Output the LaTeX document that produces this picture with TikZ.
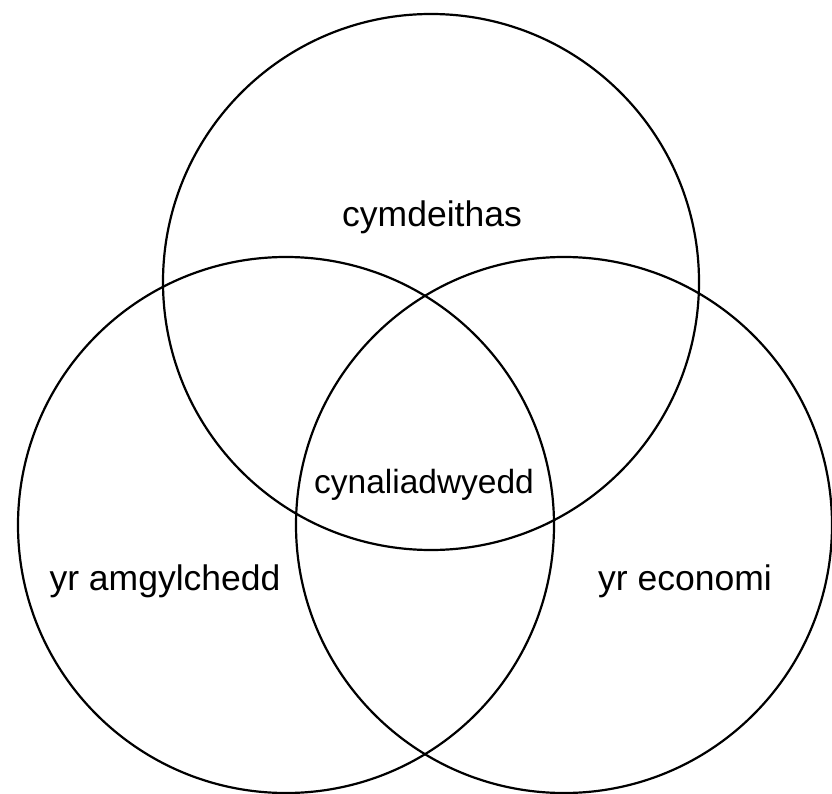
\documentclass[tikz,border=0pt]{standalone}
\usepackage{fontspec}
\setmainfont{Liberation Sans}
\begin{document}
\begin{tikzpicture}[x=1pt,y=-1pt,
  set/.style={draw=black,line width=2.2pt,circle,minimum size=536pt,inner sep=0pt},
  lab/.style={anchor=base,inner sep=0pt,font=\fontsize{35.5}{42}\selectfont}]
\useasboundingbox (0,0) rectangle (832,794);
\node[set] (top) at (431,282) {};
\node[set] (left) at (286,525) {};
\node[set] (right) at (564,525) {};
\node[lab] (society) at (432,227) {cymdeithas};
\node[lab,font=\fontsize{33.5}{40}\selectfont] (sust) at (424,493) {cynaliadwyedd};
\node[lab] (env) at (165,590) {yr amgylchedd};
\node[lab] (econ) at (685,590) {yr economi};
\end{tikzpicture}
\end{document}
